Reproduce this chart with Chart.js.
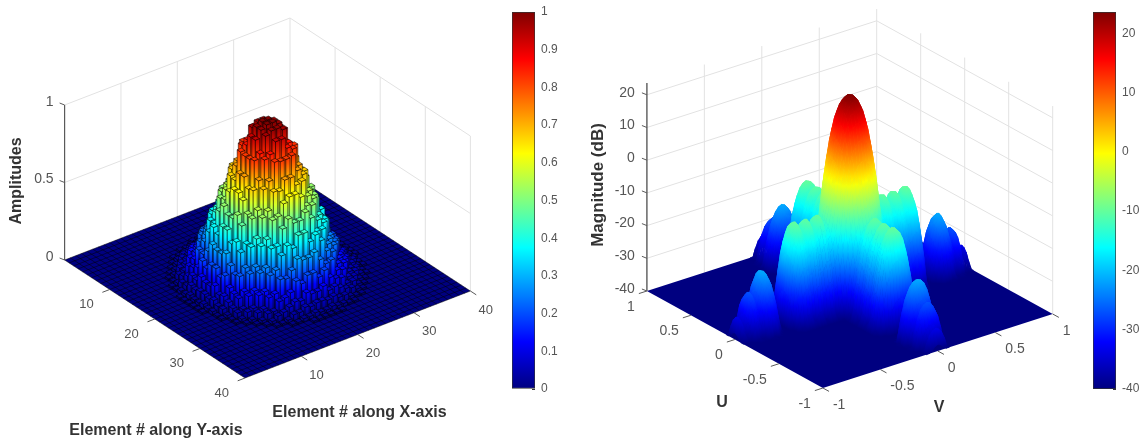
<!DOCTYPE html>
<html>
<head>
<meta charset="utf-8">
<title>Array amplitudes and beam pattern</title>
<script src="https://cdn.jsdelivr.net/npm/chart.js@4"></script>
<style>
  html, body { margin: 0; background: #fff; }
  #page { position: relative; width: 1146px; height: 445px; overflow: hidden; filter: blur(0.4px); }
  canvas { position: absolute; top: 0; }
  #left-surface { left: 0; }
  #left-bar { left: 512px; }
  #right-surface { left: 580px; }
  #right-bar { left: 1093px; }
</style>
</head>
<body>
<div id="page">
  <canvas id="left-surface" width="500" height="445"></canvas>
  <canvas id="left-bar" width="50" height="445"></canvas>
  <canvas id="right-surface" width="510" height="445"></canvas>
  <canvas id="right-bar" width="53" height="445"></canvas>
</div>
<script>
const elementTicks = [10, 20, 30, 40];
const amplitudeTicks = [0, 0.5, 1];
const uvTicks = [-1, -0.5, 0, 0.5, 1];
const magnitudeTicks = [-40, -30, -20, -10, 0, 10, 20];
const magnitudeRange = [-40, 23.6];
const amplitudeRange = [0, 1];

// one quarter of the 40x40 aperture, element 20 outwards, the rest is 0
const amplitudeQuarter = [
  [1.0, .98, .93, .82, .72, .63, .48, .42, .28, .20, .10, .06, .02, .01],
  [.98, .96, .86, .83, .66, .60, .52, .35, .30, .16, .12, .05, .03, .01],
  [.93, .86, .84, .72, .67, .53, .47, .38, .24, .19, .08, .06, .02, .01],
  [.82, .83, .72, .68, .56, .52, .37, .33, .20, .13, .09, .04, .02, 0],
  [.72, .66, .67, .56, .53, .41, .37, .25, .21, .11, .07, .04, .01, 0],
  [.63, .60, .53, .52, .41, .38, .26, .23, .13, .10, .05, .02, .01, 0],
  [.48, .52, .47, .37, .37, .26, .24, .14, .12, .05, .04, .01, 0, 0],
  [.42, .35, .38, .33, .25, .23, .14, .13, .06, .05, .02, .01, 0, 0],
  [.28, .30, .24, .20, .21, .13, .12, .06, .05, .02, .01, 0, 0, 0],
  [.20, .16, .19, .13, .11, .10, .05, .05, .02, .01, 0, 0, 0, 0],
  [.10, .12, .08, .09, .07, .05, .04, .02, .01, 0, 0, 0, 0, 0],
  [.06, .05, .06, .04, .04, .02, .01, .01, 0, 0, 0, 0, 0, 0],
  [.02, .03, .02, .02, .01, .01, 0, 0, 0, 0, 0, 0, 0, 0],
  [.01, .01, .01, 0, 0, 0, 0, 0, 0, 0, 0, 0, 0, 0]
];

// cut through the beam along U or V in dB, from 0 to 1 in steps of 0.025
const axisCutDb = [
  23.6, 23.2, 22.1, 20, 16.5, 11.5, 5.5, -2, -8, -12,
  -13.5, -10.2, -10.5, -13, -12.8, -10.3, -10.6, -13, -12, -10,
  -10.2, -13, -19, -30, -40, -50, -40, -33, -28, -24,
  -22, -21.5, -23.5, -27, -29.5, -27, -28, -33, -35.5, -33.5,
  -38
];

function jet(t) {
  const c = v => Math.round(255 * Math.min(1, Math.max(0, v)));
  const r = c(1.5 - Math.abs(4 * t - 3));
  const g = c(1.5 - Math.abs(4 * t - 2));
  const b = c(1.5 - Math.abs(4 * t - 1));
  return `rgb(${r},${g},${b})`;
}

function rampBetween(ctx, yFrom, yTo, tFrom, tTo, steps) {
  const grad = ctx.createLinearGradient(0, yFrom, 0, yTo);
  for (let s = 0; s <= steps; s++) grad.addColorStop(s / steps, jet(tFrom + (tTo - tFrom) * s / steps));
  return grad;
}

// draws the polygons of a dataset from the points the scales have placed
class SurfaceController extends Chart.ScatterController {
  draw() {
    const ctx = this.chart.ctx;
    const pts = this.getMeta().data;
    let n = 0;
    ctx.save();
    ctx.lineJoin = 'round';
    for (const p of this.getDataset().polys) {
      ctx.beginPath();
      for (let k = 0; k < p.count; k++) {
        const e = pts[n + k];
        if (k === 0) ctx.moveTo(e.x, e.y); else ctx.lineTo(e.x, e.y);
      }
      if (p.ramp !== undefined) {
        ctx.closePath();
        const yBase = (pts[n].y + pts[n + 1].y) / 2;
        const yTop = (pts[n + 2].y + pts[n + 3].y) / 2;
        ctx.fillStyle = rampBetween(ctx, yBase, yTop, 0, p.ramp, 8);
        ctx.fill();
      } else if (p.shade) {
        // smooth colour over one patch, from its lowest corner on screen to its highest
        ctx.closePath();
        let hi = 0, lo = 0;
        for (let k = 1; k < p.count; k++) {
          if (pts[n + k].y < pts[n + hi].y) hi = k;
          if (pts[n + k].y > pts[n + lo].y) lo = k;
        }
        const flat = pts[n + lo].y - pts[n + hi].y < 0.5;
        const paint = flat ? jet(p.shade[hi]) : rampBetween(ctx, pts[n + lo].y, pts[n + hi].y, p.shade[lo], p.shade[hi], 4);
        ctx.fillStyle = paint;
        ctx.strokeStyle = paint;
        ctx.lineWidth = 0.6;
        ctx.fill();
        ctx.stroke();
      } else if (p.fill) {
        ctx.closePath();
        ctx.fillStyle = p.fill;
        ctx.fill();
      }
      if (p.stroke) {
        ctx.strokeStyle = p.stroke;
        ctx.lineWidth = p.width || 1;
        ctx.stroke();
      }
      n += p.count;
    }
    ctx.restore();
  }
}
SurfaceController.id = 'surface';
Chart.register(SurfaceController);

const axisLabels = {
  id: 'axisLabels',
  afterDraw(chart, args, opts) {
    const { ctx, scales } = chart;
    ctx.save();
    for (const t of opts.items) {
      ctx.save();
      ctx.translate(scales.x.getPixelForValue(t.x), scales.y.getPixelForValue(t.y));
      if (t.rotate) ctx.rotate(t.rotate);
      ctx.font = t.font || '13px "Liberation Sans"';
      ctx.fillStyle = t.color || '#555';
      ctx.textAlign = t.align || 'center';
      ctx.textBaseline = 'middle';
      ctx.fillText(t.text, 0, 0);
      ctx.restore();
    }
    ctx.restore();
  }
};

function makeScene() {
  const data = [], polys = [];
  return {
    data, polys,
    add(points, style) {
      points.forEach(p => data.push({ x: p[0], y: p[1] }));
      polys.push(Object.assign({ count: points.length }, style));
    }
  };
}

function surfaceChart(id, scene, labels, xMin, xMax) {
  return new Chart(document.getElementById(id), {
    type: 'surface',
    data: { datasets: [{ data: scene.data, polys: scene.polys, pointRadius: 0 }] },
    plugins: [axisLabels],
    options: {
      responsive: false,
      animation: false,
      events: [],
      clip: false,
      layout: { padding: 0 },
      scales: {
        x: { type: 'linear', display: false, min: xMin, max: xMax },
        y: { type: 'linear', display: false, min: 0, max: 445, reverse: true }
      },
      plugins: { legend: { display: false }, tooltip: { enabled: false }, axisLabels: { items: labels } }
    }
  });
}

function colorbar(id, range, step, decimals, barWidth, top, bottom) {
  return new Chart(document.getElementById(id), {
    type: 'bar',
    data: {
      labels: ['level'],
      datasets: [{
        data: [range],
        barPercentage: 1,
        categoryPercentage: 1,
        borderWidth: 1,
        borderSkipped: false,
        borderColor: '#333',
        backgroundColor(c) {
          const a = c.chart.chartArea;
          if (!a) return '#000';
          return rampBetween(c.chart.ctx, a.bottom, a.top, 0, 1, 64);
        }
      }]
    },
    options: {
      responsive: false,
      animation: false,
      events: [],
      layout: { padding: { top, bottom, left: 0, right: 0 } },
      scales: {
        x: { display: false },
        y: {
          position: 'right',
          min: range[0],
          max: range[1],
          afterFit(s) { s.width = s.chart.width - barWidth; s.paddingTop = 0; s.paddingBottom = 0; },
          border: { display: false },
          grid: { drawOnChartArea: false, tickLength: -3, tickColor: '#333' },
          ticks: {
            stepSize: step,
            includeBounds: false,
            padding: 9,
            color: '#555',
            font: { family: '"Liberation Sans"', size: 12 },
            callback: v => (decimals ? String(Math.round(v * 10) / 10) : String(v))
          }
        }
      },
      plugins: { legend: { display: false }, tooltip: { enabled: false } }
    }
  });
}

/* ---------- left: element amplitudes ---------- */
const leftAt = (X, Y, Z) => [
  64.6 + X * 225.4 / 40 + Y * 180.4 / 40,
  260 - X * 87 / 40 + Y * 118 / 40 - Z * 155
];
const left = makeScene();
const wall = '#e2e2e2';
const axisGrey = '#5a5a5a';

for (const z of amplitudeTicks.slice(1)) {
  left.add([leftAt(0, 0, z), leftAt(40, 0, z), leftAt(40, 40, z)], { stroke: wall });
}
for (const t of elementTicks) {
  left.add([leftAt(t, 0, 0), leftAt(t, 0, 1)], { stroke: wall });
  left.add([leftAt(40, t, 0), leftAt(40, t, 1)], { stroke: wall });
}
left.add([leftAt(0, 0, 0), leftAt(0, 0, 1)], { stroke: axisGrey, width: 1.2 });

left.add([leftAt(0, 0, 0), leftAt(40, 0, 0), leftAt(40, 40, 0), leftAt(0, 40, 0)], { fill: jet(0) });
for (let k = 0; k <= 40; k++) {
  left.add([leftAt(k, 0, 0), leftAt(k, 40, 0)], { stroke: 'rgba(0,0,0,0.6)', width: 0.8 });
  left.add([leftAt(0, k, 0), leftAt(40, k, 0)], { stroke: 'rgba(0,0,0,0.6)', width: 0.8 });
}

const amplitudeAt = (i, j) => {
  const a = i < 20 ? 19 - i : i - 20;
  const b = j < 20 ? 19 - j : j - 20;
  return a < 14 && b < 14 ? amplitudeQuarter[a][b] : 0;
};
const cells = [];
for (let i = 0; i < 40; i++) {
  for (let j = 0; j < 40; j++) {
    if (amplitudeAt(i, j) > 0) cells.push([i, j, amplitudeAt(i, j)]);
  }
}
cells.sort((p, q) => (q[0] - q[1]) - (p[0] - p[1]));
const columnEdge = 'rgba(0,0,0,0.7)';
const inset = 0.12;
for (const [i, j, z] of cells) {
  const x0 = i + inset, x1 = i + 1 - inset, y0 = j + inset, y1 = j + 1 - inset;
  left.add([leftAt(x0, y1, 0), leftAt(x1, y1, 0), leftAt(x1, y1, z), leftAt(x0, y1, z)],
    { ramp: z, stroke: columnEdge, width: 0.7 });
  left.add([leftAt(x0, y0, 0), leftAt(x0, y1, 0), leftAt(x0, y1, z), leftAt(x0, y0, z)],
    { ramp: z, stroke: columnEdge, width: 0.7 });
  left.add([leftAt(x0, y0, z), leftAt(x1, y0, z), leftAt(x1, y1, z), leftAt(x0, y1, z), leftAt(x0, y0, z)],
    { fill: jet(z), stroke: columnEdge, width: 0.7 });
}

const leftLabels = [];
for (const z of amplitudeTicks) {
  const p = leftAt(0, 0, z);
  left.add([p, [p[0] - 5, p[1] - 2]], { stroke: axisGrey });
  leftLabels.push({ x: p[0] - 11, y: p[1] - 3, text: String(z), align: 'right', font: '14px "Liberation Sans"' });
}
for (const t of elementTicks) {
  const py = leftAt(0, t, 0);
  left.add([py, leftAt(-1.3, t, 0)], { stroke: axisGrey });
  leftLabels.push({ x: py[0] - 16, y: py[1] + 15, text: String(t), align: 'right' });
  const px = leftAt(t, 40, 0);
  left.add([px, leftAt(t, 41.3, 0)], { stroke: axisGrey });
  leftLabels.push({ x: px[0] + 8, y: px[1] + 19, text: String(t), align: 'left' });
}
const boldLabel = 'bold 16px "Liberation Sans"';
leftLabels.push(
  { x: 17, y: 181, text: 'Amplitudes', font: boldLabel, color: '#333', rotate: -Math.PI / 2 },
  { x: 156, y: 431, text: 'Element # along Y-axis', font: boldLabel, color: '#333' },
  { x: 359.5, y: 413, text: 'Element # along X-axis', font: boldLabel, color: '#333' }
);

/* ---------- right: beam pattern ---------- */
const rightAt = (U, V, Z) => [
  849.8 + V * 114.9 - U * 88,
  302.5 - V * 37 - U * 48.5 - (Z + 40) * 3.27
];
const right = makeScene();
const [floorDb, topDb] = magnitudeRange;

for (const z of magnitudeTicks.slice(1)) {
  right.add([rightAt(1, -1, z), rightAt(1, 1, z), rightAt(-1, 1, z)], { stroke: wall });
}
for (const t of uvTicks.slice(1)) {
  right.add([rightAt(1, t, floorDb), rightAt(1, t, topDb)], { stroke: wall });
  right.add([rightAt(-t, 1, floorDb), rightAt(-t, 1, topDb)], { stroke: wall });
}
right.add([rightAt(1, -1, floorDb), rightAt(1, -1, topDb)], { stroke: axisGrey, width: 1.4 });
right.add([rightAt(1, -1, floorDb), rightAt(1, 1, floorDb), rightAt(-1, 1, floorDb), rightAt(-1, -1, floorDb)],
  { fill: jet(0) });

const cutCount = (axisCutDb.length - 1) * 2;
const uvAt = i => -1 + i * 2 / cutCount;
const patternAt = (i, j) => {
  const a = axisCutDb[Math.abs(i - cutCount / 2)];
  const b = axisCutDb[Math.abs(j - cutCount / 2)];
  return Math.max(floorDb, a + b - topDb);
};
const levelOf = z => (z - floorDb) / (topDb - floorDb);
for (let i = cutCount - 1; i >= 0; i--) {
  for (let j = cutCount - 1; j >= 0; j--) {
    const z00 = patternAt(i, j), z01 = patternAt(i, j + 1), z10 = patternAt(i + 1, j), z11 = patternAt(i + 1, j + 1);
    if (Math.max(z00, z01, z10, z11) <= floorDb) continue;
    right.add([
      rightAt(uvAt(i), uvAt(j), z00), rightAt(uvAt(i), uvAt(j + 1), z01),
      rightAt(uvAt(i + 1), uvAt(j + 1), z11), rightAt(uvAt(i + 1), uvAt(j), z10)
    ], { shade: [levelOf(z00), levelOf(z01), levelOf(z11), levelOf(z10)] });
  }
}

const rightLabels = [];
for (const z of magnitudeTicks) {
  const p = rightAt(1, -1, z);
  right.add([p, [p[0] - 5, p[1] - 2]], { stroke: axisGrey });
  rightLabels.push({ x: p[0] - 12, y: p[1] - 2, text: String(z), align: 'right', font: '14px "Liberation Sans"' });
}
for (const t of uvTicks) {
  const pu = rightAt(t, -1, floorDb);
  right.add([pu, rightAt(t, -1.07, floorDb)], { stroke: axisGrey });
  rightLabels.push({ x: pu[0] - 12, y: pu[1] + 16, text: String(t), align: 'right', font: '14px "Liberation Sans"' });
  const pv = rightAt(-1, t, floorDb);
  right.add([pv, rightAt(-1.07, t, floorDb)], { stroke: axisGrey });
  rightLabels.push({ x: pv[0] + 10, y: pv[1] + 17, text: String(t), align: 'left', font: '14px "Liberation Sans"' });
}
rightLabels.push(
  { x: 598, y: 185, text: 'Magnitude (dB)', font: 'bold 17px "Liberation Sans"', color: '#333', rotate: -Math.PI / 2 },
  { x: 722, y: 403, text: 'U', font: 'bold 16px "Liberation Sans"', color: '#333' },
  { x: 939, y: 408, text: 'V', font: 'bold 16px "Liberation Sans"', color: '#333' }
);

surfaceChart('left-surface', left, leftLabels, 0, 500);
surfaceChart('right-surface', right, rightLabels, 580, 1090);
colorbar('left-bar', amplitudeRange, 0.1, true, 23, 12, 56);
colorbar('right-bar', magnitudeRange, 10, false, 23, 12, 56);
</script>
</body>
</html>
